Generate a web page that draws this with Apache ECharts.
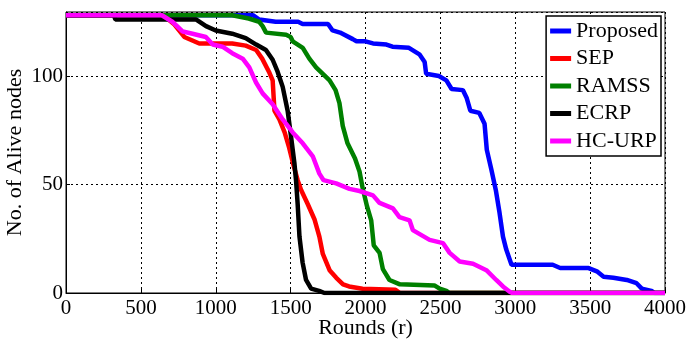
<!DOCTYPE html>
<html>
<head>
<meta charset="utf-8">
<script src="https://cdn.jsdelivr.net/npm/echarts@6/dist/echarts.min.js"></script>
<style>
  html, body { margin: 0; padding: 0; background: #fff; }
  #chart { width: 687px; height: 341px; }
</style>
</head>
<body>
<div id="chart"></div>
<script>
// [round, alive nodes]
var proposed = [[0,128],[1250,128],[1290,126],[1400,125],[1550,125],[1580,124],[1750,124],[1780,121],[1830,120],[1915,117],[1940,116],[2000,116],[2050,115],[2140,114.5],[2180,113.5],[2290,113],[2360,110],[2395,106.5],[2405,101],[2490,100],[2540,98],[2575,94],[2650,93.5],[2675,90],[2700,84],[2760,83],[2795,78],[2810,66],[2840,57],[2870,47.5],[2895,37],[2918,26],[2940,20],[2975,13],[3250,13],[3300,11.5],[3490,11.5],[3545,10],[3590,7.5],[3655,7],[3745,6],[3810,4.5],[3845,2],[3910,1],[3930,0],[4000,0]];
var sep = [[0,128],[650,128],[720,124],[790,118],[890,115],[1110,115],[1200,114],[1270,112],[1310,108],[1355,102],[1380,98],[1392,84],[1425,80],[1460,74],[1490,67],[1515,60],[1547,52],[1570,47.5],[1614,41],[1659,34],[1692,26],[1715,18],[1760,10.5],[1805,7],[1850,4],[1890,3],[1980,2],[2200,1.5],[2230,0],[4000,0]];
var ramss = [[0,128],[1110,128],[1220,126.5],[1290,125],[1313,123],[1336,120],[1470,119],[1500,118],[1514,116],[1581,113],[1625,108],[1670,104],[1715,101],[1760,98],[1800,93.5],[1826,87.5],[1848,77],[1880,69],[1930,62],[1960,56],[1982,48],[2010,40],[2038,33.5],[2055,22],[2094,18.5],[2116,11],[2160,6],[2230,4],[2460,3.5],[2495,2],[2540,1],[2560,0],[4000,0]];
var ecrp = [[0,128],[320,128],[330,126],[870,126],[935,123],[1000,121],[1110,119.5],[1200,117.5],[1270,114.5],[1335,112],[1380,107.5],[1413,102],[1447,95],[1480,84],[1503,72],[1525,60],[1536,52],[1547,41],[1559,26],[1580,14],[1603,6],[1637,2],[1690,1],[1726,0],[4000,0]];
var hcurp = [[0,128],[640,128],[710,125],[780,120.5],[845,119.5],[934,118],[980,114.5],[1045,113.5],[1110,110.5],[1180,108],[1224,104],[1269,97],[1313,92],[1380,87],[1447,80],[1514,74],[1581,69],[1648,63],[1692,55],[1720,52],[1804,50.5],[1893,48],[1960,47],[2050,45],[2094,41.5],[2183,39],[2227,35],[2294,33.5],[2316,29],[2428,24.5],[2517,23],[2562,18.5],[2629,14.5],[2718,13.5],[2807,10.5],[2873,6],[2918,3],[2963,0.6],[2980,0],[4000,0]];

var names = ['Proposed', 'SEP', 'RAMSS', 'ECRP', 'HC-URP'];
var colors = ['#0000ff', '#ff0000', '#008000', '#000000', '#ff00ff'];
var allData = [proposed, sep, ramss, ecrp, hcurp];

var font = '"Liberation Serif", "Times New Roman", serif';
var myChart = echarts.init(document.getElementById('chart'));

var series = [];
for (var i = 0; i < names.length; i++) {
  series.push({
    name: names[i],
    type: 'line',
    data: allData[i],
    showSymbol: false,
    lineStyle: { width: 4.5, color: colors[i] },
    itemStyle: { color: colors[i] },
    animation: false
  });
}

var option = {
  animation: false,
  grid: {
    left: 66, right: 22, top: 12, bottom: 48,
    outerBoundsMode: 'none',
    containLabel: false,
    show: true, borderColor: '#000', borderWidth: 1
  },
  legend: {
    orient: 'vertical',
    right: 26, top: 16,
    icon: 'rect',
    itemWidth: 21, itemHeight: 5,
    itemGap: 5.5,
    padding: [4, 3, 4, 4],
    backgroundColor: '#fff',
    borderColor: '#000', borderWidth: 1.5,
    textStyle: { fontFamily: font, fontSize: 22, color: '#000' },
    data: names
  },
  xAxis: {
    type: 'value',
    min: 0, max: 4000, interval: 500,
    name: 'Rounds (r)', nameLocation: 'middle', nameGap: 24,
    nameMoveOverlap: false,
    nameTextStyle: { fontFamily: font, fontSize: 22, color: '#000' },
    axisLine: { lineStyle: { color: '#000', width: 1 } },
    axisTick: { inside: true, length: 4, lineStyle: { color: '#000' } },
    axisLabel: {
      fontFamily: font, fontSize: 21, color: '#000', margin: 5,
      formatter: function (v) { return String(v); }
    },
    splitLine: { show: true, lineStyle: { color: '#000', type: [2, 3], width: 1 } }
  },
  yAxis: {
    type: 'value',
    min: 0, max: 129.5, interval: 50,
    name: 'No. of Alive nodes', nameLocation: 'middle', nameGap: 40,
    nameMoveOverlap: false,
    nameTextStyle: { fontFamily: font, fontSize: 22, color: '#000' },
    axisLine: { show: true, lineStyle: { color: '#000', width: 1 } },
    axisTick: { show: true, inside: true, length: 4, lineStyle: { color: '#000' } },
    axisLabel: {
      fontFamily: font, fontSize: 21, color: '#000', margin: 3, showMaxLabel: false,
      formatter: function (v) { return String(v); }
    },
    splitLine: { show: true, lineStyle: { color: '#000', type: [2, 3], width: 1 } }
  },
  series: series
};

myChart.setOption(option);
</script>
</body>
</html>
